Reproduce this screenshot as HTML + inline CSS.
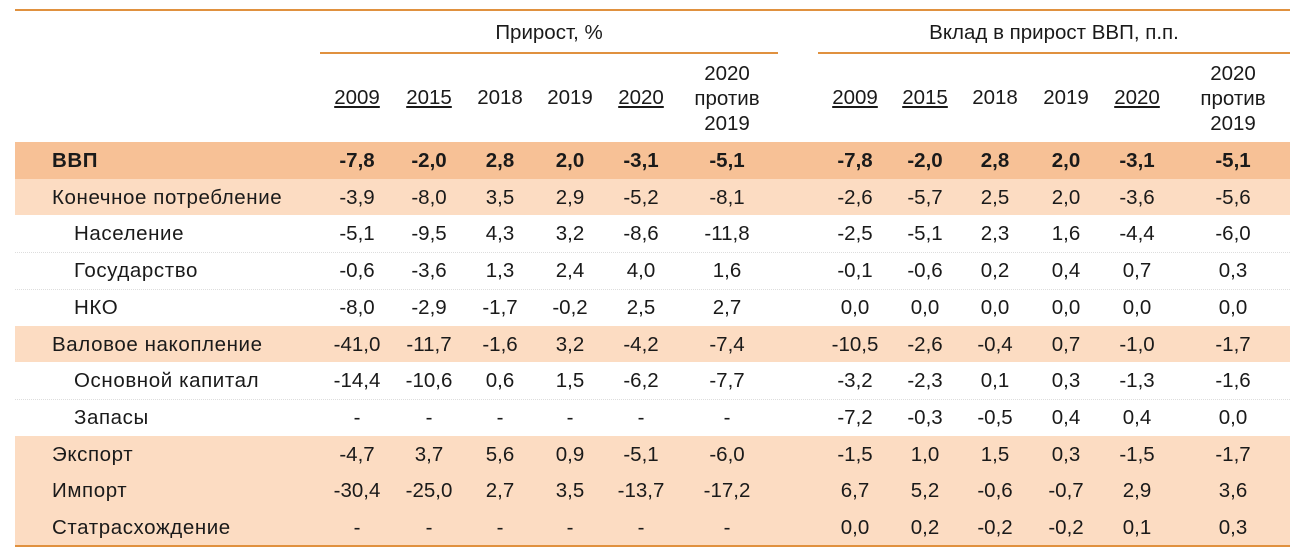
<!DOCTYPE html>
<html><head><meta charset="utf-8">
<style>
body{margin:0;width:1302px;height:555px;background:#fff;position:relative;overflow:hidden;font-family:"Liberation Sans",Arial,sans-serif;color:#1a1a1a}
.a{position:absolute}
.c{position:absolute;transform:translateX(-50%);white-space:nowrap;font-size:20.5px}
.hl{position:absolute;height:2px;background:#e0913f}
.row{position:absolute;left:15px;width:1275px}
.u{text-decoration:underline}
</style></head><body>
<div class="hl" style="left:15px;top:9px;width:1275px"></div>
<div class="c" style="left:549px;top:21px">Прирост, %</div>
<div class="c" style="left:1054px;top:21px">Вклад в прирост ВВП, п.п.</div>
<div class="hl" style="left:320px;top:52px;width:458px"></div>
<div class="hl" style="left:818px;top:52px;width:472px"></div>
<div id="t"></div>
<script>
const years=["2009","2015","2018","2019","2020"];
const underlined=[true,true,false,false,true];
const labels=["ВВП","Конечное потребление","Население","Государство","НКО","Валовое накопление","Основной капитал","Запасы","Экспорт","Импорт","Статрасхождение"];
const growth=[
["-7,8","-2,0","2,8","2,0","-3,1","-5,1"],
["-3,9","-8,0","3,5","2,9","-5,2","-8,1"],
["-5,1","-9,5","4,3","3,2","-8,6","-11,8"],
["-0,6","-3,6","1,3","2,4","4,0","1,6"],
["-8,0","-2,9","-1,7","-0,2","2,5","2,7"],
["-41,0","-11,7","-1,6","3,2","-4,2","-7,4"],
["-14,4","-10,6","0,6","1,5","-6,2","-7,7"],
["-","-","-","-","-","-"],
["-4,7","3,7","5,6","0,9","-5,1","-6,0"],
["-30,4","-25,0","2,7","3,5","-13,7","-17,2"],
["-","-","-","-","-","-"]];
const contrib=[
["-7,8","-2,0","2,8","2,0","-3,1","-5,1"],
["-2,6","-5,7","2,5","2,0","-3,6","-5,6"],
["-2,5","-5,1","2,3","1,6","-4,4","-6,0"],
["-0,1","-0,6","0,2","0,4","0,7","0,3"],
["0,0","0,0","0,0","0,0","0,0","0,0"],
["-10,5","-2,6","-0,4","0,7","-1,0","-1,7"],
["-3,2","-2,3","0,1","0,3","-1,3","-1,6"],
["-7,2","-0,3","-0,5","0,4","0,4","0,0"],
["-1,5","1,0","1,5","0,3","-1,5","-1,7"],
["6,7","5,2","-0,6","-0,7","2,9","3,6"],
["0,0","0,2","-0,2","-0,2","0,1","0,3"]];
const bgs=["#f7c196","#fcdcc2","#fff","#fff","#fff","#fcdcc2","#fff","#fff","#fcdcc2","#fcdcc2","#fcdcc2"];
const indent=[0,0,1,1,1,0,1,1,0,0,0];
const colX=[357,429,500,570,641,727,855,925,995,1066,1137,1233];
const T=document.getElementById('t');
for(let g=0;g<2;g++){
 years.forEach((y,i)=>{
  const d=document.createElement('div');
  d.className='c'+(underlined[i]?' u':'');
  d.style.left=colX[g*6+i]+'px';d.style.top='86px';d.textContent=y;
  
  
  T.appendChild(d);
 });
 const d=document.createElement('div');
 d.className='c';d.style.left=colX[g*6+5]+'px';d.style.top='61px';d.style.textAlign='center';d.style.lineHeight='25px';
 d.innerHTML='2020<br>против<br>2019';
 
 
 T.appendChild(d);
}
const top0=142,rh=36.7;
labels.forEach((lab,r)=>{
 const y=top0+r*rh;
 const row=document.createElement('div');
 row.className='row';row.style.top=y+'px';row.style.height=rh+'px';row.style.background=bgs[r];
 if(bgs[r]=='#fff'&&bgs[r-1]=='#fff')row.style.borderTop='1px dotted #ddd';
 
 
 T.appendChild(row);
 const l=document.createElement('div');
 l.className='a';l.style.left=(indent[r]?74:52)+'px';l.style.top=(y+7)+'px';l.style.fontSize='20.5px';l.style.letterSpacing='0.6px';
 if(r==0)l.style.fontWeight='bold';
 l.textContent=lab;
 
 
 T.appendChild(l);
 growth[r].concat(contrib[r]).forEach((v,i)=>{
  const c=document.createElement('div');
  c.className='c';c.style.left=colX[i]+'px';c.style.top=(y+7)+'px';
  if(r==0)c.style.fontWeight='bold';
  c.textContent=v;
  
  
  T.appendChild(c);
 });
});
</script>
<div class="hl" style="left:15px;top:545px;width:1275px"></div>
</body></html>
